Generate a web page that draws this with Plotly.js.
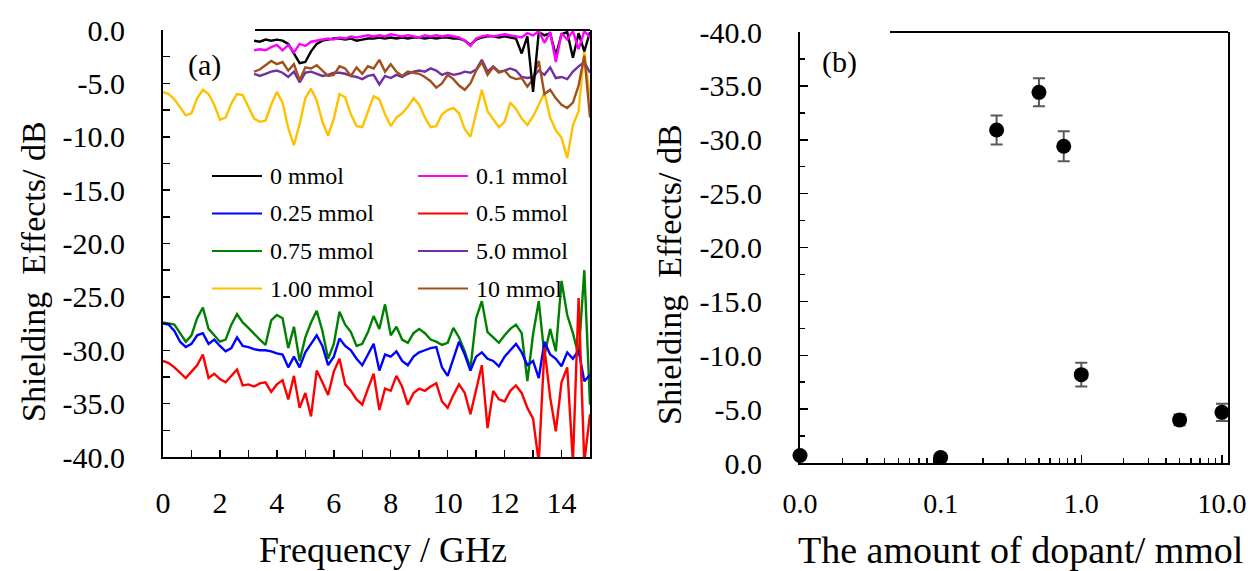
<!DOCTYPE html>
<html>
<head>
<meta charset="utf-8">
<script src="https://cdn.plot.ly/plotly-3.0.1.min.js"></script>
<style>html,body{margin:0;padding:0;background:#fff;}#chart{width:1248px;height:571px;}</style>
</head>
<body>
<div id="chart"></div>
<script>
// ---------- Panel (a): shielding effectiveness vs frequency ----------
const freq = [0,0.2,0.4,0.6,0.8,1,1.2,1.4,1.6,1.8,
  2,2.2,2.4,2.6,2.8,3,3.2,3.4,3.6,3.8,
  4,4.2,4.4,4.6,4.8,5,5.2,5.4,5.6,5.8,
  6,6.2,6.4,6.6,6.8,7,7.2,7.4,7.6,7.8,
  8,8.2,8.4,8.6,8.8,9,9.2,9.4,9.6,9.8,
  10,10.2,10.4,10.6,10.8,11,11.2,11.4,11.6,11.8,
  12,12.2,12.4,12.6,12.8,13,13.2,13.4,13.6,13.8,
  14,14.2,14.4,14.6,14.8,15];

const n16 = [null,null,null,null,null,null,null,null,null,null,null,null,null,null,null,null];

const se0mmol = n16.concat([-1.0,-1.1,-0.9,-1.0,
  -0.9,-1.0,-1.3,-2.2,-3.1,-3.0,-2.0,-1.3,-1.0,-0.9,
  -0.8,-0.8,-0.9,-0.8,-1.0,-0.9,-0.8,-0.8,-0.7,-0.8,
  -0.7,-0.8,-0.7,-0.8,-0.7,-0.7,-0.8,-0.7,-0.8,-0.7,
  -0.7,-0.8,-0.8,-1.0,-1.4,-0.9,-0.7,-0.6,-0.6,-0.7,
  -0.6,-0.7,-0.8,-2.2,-0.6,-5.8,-0.2,-0.5,-0.3,-2.4,
  -0.4,-0.2,-2.6,-0.3,-2.0,-0.2]);

const se01mmol = n16.concat([-1.9,-1.8,-1.9,-1.6,
  -1.4,-1.9,-1.4,-2.1,-1.3,-1.5,-1.1,-1.0,-0.9,-0.8,
  -0.9,-0.7,-0.8,-0.6,-0.7,-0.6,-0.5,-0.6,-0.5,-0.6,
  -0.4,-0.5,-0.6,-0.5,-0.6,-0.7,-0.5,-0.6,-0.5,-0.6,
  -0.5,-0.6,-0.7,-1.0,-1.5,-0.8,-0.6,-0.5,-0.6,-0.5,
  -0.4,-0.5,-0.6,-0.7,-0.3,-0.5,-0.1,-1.2,-0.2,-3.0,
  -0.3,-0.9,-0.1,-1.8,-0.1,-0.7]);

const se025mmol = [-27.5,-27.6,-28.2,-29.2,-29.7,-29.4,-28.6,-28.4,-29.4,-29.0,
  -29.6,-30.1,-29.8,-28.8,-29.6,-29.7,-29.9,-30.0,-30.0,-30.1,
  -30.3,-30.4,-31.6,-30.6,-31.6,-30.2,-29.4,-28.6,-29.6,-31.4,
  -30.6,-28.9,-29.6,-30.0,-30.8,-31.4,-30.4,-29.4,-31.9,-30.4,
  -30.6,-30.1,-31.0,-31.4,-30.6,-30.2,-30.0,-29.8,-29.7,-31.6,
  -32.4,-30.8,-29.2,-30.4,-31.9,-30.6,-30.2,-30.8,-31.0,-31.5,
  -30.6,-30.0,-29.4,-30.2,-31.4,-31.0,-32.6,-29.2,-30.4,-30.8,
  -31.5,-30.2,-30.8,-30.0,-32.9,-32.3];

const se05mmol = [-31.0,-31.2,-31.6,-32.1,-32.6,-32.0,-31.4,-30.4,-32.6,-32.2,
  -32.7,-33.0,-32.4,-31.8,-33.3,-33.2,-33.4,-33.1,-33.0,-33.9,
  -33.2,-32.8,-34.6,-32.4,-35.4,-34.0,-36.2,-31.9,-33.0,-34.2,
  -32.0,-30.8,-33.2,-33.8,-34.6,-35.1,-33.6,-32.2,-35.6,-33.6,
  -33.8,-32.4,-33.4,-35.1,-34.0,-33.6,-33.8,-33.4,-33.1,-34.8,
  -35.4,-34.2,-33.2,-34.0,-36.0,-33.8,-31.4,-37.3,-33.8,-34.6,
  -34.8,-33.8,-33.3,-34.0,-35.4,-36.4,-40.5,-29.8,-34.4,-37.6,
  -33.0,-31.6,-40.5,-25.1,-40.5,-36.0];

const se075mmol = [-27.4,-27.5,-27.6,-28.4,-29.2,-28.6,-27.0,-26.0,-28.0,-28.6,
  -29.2,-29.0,-27.6,-26.6,-27.4,-27.9,-28.5,-29.0,-29.5,-27.2,
  -26.7,-27.0,-29.8,-27.8,-31.0,-28.8,-27.4,-26.3,-28.2,-30.8,
  -29.4,-26.4,-27.6,-28.3,-29.6,-29.4,-28.3,-26.8,-28.0,-25.7,
  -28.6,-27.8,-29.0,-29.3,-28.4,-28.0,-28.4,-29.0,-29.2,-29.5,
  -29.3,-27.9,-28.8,-30.1,-31.7,-27.0,-25.4,-28.3,-28.8,-29.3,
  -28.6,-28.0,-27.6,-28.4,-32.9,-28.5,-25.4,-30.5,-28.0,-30.1,
  -23.5,-26.7,-28.4,-30.5,-22.5,-35.1];

const se5mmol = n16.concat([-4.1,-4.3,-4.1,-3.9,
  -3.8,-4.0,-4.4,-3.9,-4.9,-4.0,-3.9,-4.1,-4.3,-4.2,
  -4.0,-4.0,-4.1,-4.3,-4.4,-4.6,-4.3,-4.2,-5.1,-4.3,
  -4.5,-4.2,-4.4,-4.1,-3.9,-3.8,-3.9,-3.6,-3.8,-4.2,
  -4.0,-4.2,-4.1,-3.9,-4.0,-3.7,-2.8,-3.9,-3.4,-3.9,
  -3.8,-3.6,-3.8,-4.4,-4.5,-4.4,-3.8,-4.2,-3.5,-4.5,
  -4.4,-4.6,-3.9,-3.4,-3.0,-4.0]);

const se1mmol = [-5.8,-6.0,-6.5,-7.2,-8.0,-7.8,-6.4,-5.6,-6.0,-7.0,
  -8.4,-8.2,-6.9,-6.0,-6.1,-7.2,-8.3,-8.6,-8.5,-7.0,
  -5.8,-6.8,-9.2,-10.8,-8.8,-6.4,-5.5,-6.6,-8.6,-9.9,
  -8.3,-6.0,-6.3,-7.9,-9.0,-9.1,-7.6,-6.2,-6.5,-7.9,
  -9.0,-8.2,-7.8,-7.2,-6.4,-7.0,-8.2,-9.1,-9.0,-7.9,
  -7.5,-7.3,-7.8,-9.3,-10.0,-7.8,-5.6,-7.6,-8.4,-9.1,
  -8.6,-6.8,-7.4,-8.3,-8.9,-8.1,-7.0,-5.9,-8.2,-9.4,
  -10.1,-12.0,-8.9,-7.6,-2.0,-6.5];

const se10mmol = n16.concat([-3.9,-3.7,-3.3,-2.9,
  -3.2,-3.0,-3.8,-3.2,-4.7,-3.5,-3.6,-3.3,-3.8,-4.3,
  -4.2,-3.4,-3.6,-4.3,-3.5,-4.1,-3.4,-3.6,-2.8,-3.9,
  -3.2,-3.9,-4.3,-3.9,-4.0,-4.1,-4.4,-4.8,-5.4,-5.0,
  -4.2,-4.6,-5.2,-5.6,-5.0,-3.8,-3.0,-4.2,-3.5,-4.0,
  -3.8,-4.4,-4.6,-4.5,-5.3,-4.6,-2.9,-6.0,-5.6,-6.4,
  -7.0,-7.3,-6.8,-5.2,-2.4,-8.2]);

// ---------- Panel (b): shielding effectiveness vs dopant amount ----------
const dopant = [0.01, 0.1, 0.25, 0.5, 0.75, 1.0, 5.0, 10.0];
const seDopant = [-0.7, -0.5, -30.9, -34.4, -29.4, -8.2, -4.0, -4.7];
const seError = [0.3, 0.3, 1.35, 1.3, 1.4, 1.1, 0.5, 0.8];

const yTickVals = [0,-5,-10,-15,-20,-25,-30,-35,-40];
const yTickText = ['0.0','-5.0','-10.0','-15.0','-20.0','-25.0','-30.0','-35.0','-40.0'];
const xTickVals2 = [0.01, 0.1, 1, 10];
const xTickText2 = ['0.0','0.1','1.0','10.0'];

const legendNames = ['0 mmol','0.1 mmol','0.25 mmol','0.5 mmol','0.75 mmol','5.0 mmol','1.00 mmol','10 mmol'];

// ---------- build ----------
const W = 1248, H = 571;
const FONT = "'Liberation Serif', 'Times New Roman', serif";
const series = {
  '0 mmol':    {y: se0mmol,   color: '#000000'},
  '0.1 mmol':  {y: se01mmol,  color: '#FF00FF'},
  '0.25 mmol': {y: se025mmol, color: '#0000FF'},
  '0.5 mmol':  {y: se05mmol,  color: '#FF0000'},
  '0.75 mmol': {y: se075mmol, color: '#008000'},
  '5.0 mmol':  {y: se5mmol,   color: '#7030A0'},
  '1.00 mmol': {y: se1mmol,   color: '#FFC000'},
  '10 mmol':   {y: se10mmol,  color: '#A0501E'}
};
const drawOrder = ['0.75 mmol','0.25 mmol','0.5 mmol','1.00 mmol','5.0 mmol','10 mmol','0 mmol','0.1 mmol'];

const traces = drawOrder.map(name => ({
  type: 'scatter', mode: 'lines', name: name,
  x: freq, y: series[name].y,
  line: {color: series[name].color, width: 2.4},
  connectgaps: false, showlegend: false,
  xaxis: 'x', yaxis: 'y'
}));

traces.push({
  type: 'scatter', mode: 'markers', name: 'SE',
  x: dopant, y: seDopant,
  marker: {color: '#000000', size: 15},
  error_y: {type: 'data', array: seError, visible: true, color: '#595959', thickness: 2, width: 6},
  cliponaxis: false, showlegend: false,
  xaxis: 'x2', yaxis: 'y2'
});

const shapes = [
  {type:'line', xref:'x domain', yref:'y domain', x0:(255-163)/427, x1:1, y0:1, y1:1, line:{color:'#000', width:2}},
  {type:'line', xref:'x2 domain', yref:'y2 domain', x0:(890-800)/428, x1:1, y0:1, y1:1, line:{color:'#000', width:2}}
];
const annotations = [];
legendNames.forEach((name, i) => {
  const col = i % 2, row = Math.floor(i / 2);
  const lx = 212 + col * 206, ly = 176 + row * 37.5;
  shapes.push({type:'line', xref:'paper', yref:'paper', x0: lx / W, x1: (lx + 50) / W, y0: 1 - ly / H, y1: 1 - ly / H,
    line:{color: series[name].color, width: 2}});
  annotations.push({xref:'paper', yref:'paper', x: (lx + 56) / W, y: 1 - ly / H, xanchor:'left', yanchor:'middle',
    text: name, showarrow:false, font:{size: 24, color:'#000', family: FONT}});
});
annotations.push(
  {xref:'paper', yref:'paper', x: 204/W, y: 1 - 65/H, text:'(a)', showarrow:false, xanchor:'center', yanchor:'middle', font:{size:30, family:FONT, color:'#000'}},
  {xref:'paper', yref:'paper', x: 839/W, y: 1 - 62/H, text:'(b)', showarrow:false, xanchor:'center', yanchor:'middle', font:{size:30, family:FONT, color:'#000'}},
  {xref:'paper', yref:'paper', x: 33/W, y: 1 - 272/H, text:'Shielding  Effects/ dB', textangle:-90, showarrow:false, xanchor:'center', yanchor:'middle', font:{size:34, family:FONT, color:'#000'}},
  {xref:'paper', yref:'paper', x: 670/W, y: 1 - 275/H, text:'Shielding  Effects/ dB', textangle:-90, showarrow:false, xanchor:'center', yanchor:'middle', font:{size:34, family:FONT, color:'#000'}},
  {xref:'paper', yref:'paper', x: 383/W, y: 1 - 550/H, text:'Frequency / GHz', showarrow:false, xanchor:'center', yanchor:'middle', font:{size:36, family:FONT, color:'#000'}},
  {xref:'paper', yref:'paper', x: 1020/W, y: 1 - 550/H, text:'The amount of dopant/ mmol', showarrow:false, xanchor:'center', yanchor:'middle', font:{size:38, family:FONT, color:'#000'}}
);

const axisCommon = {showline:true, linecolor:'#000', linewidth:2, showgrid:false, zeroline:false,
  ticks:'inside', tickcolor:'#000', tickwidth:1.5, ticklabeloverflow:'allow',
  tickfont:{size:30, family:FONT, color:'#000'}};

const layout = {
  width: W, height: H,
  margin: {l:0, r:0, t:0, b:0},
  paper_bgcolor: '#fff', plot_bgcolor: '#fff',
  font: {family: FONT, color: '#000'},
  showlegend: false,
  xaxis: Object.assign({}, axisCommon, {
    domain:[163/W, 590/W], range:[0,15], anchor:'y',
    tickmode:'linear', tick0:0, dtick:2, ticklen:7, ticklabelstandoff:18,
    minor:{ticks:'inside', tickmode:'linear', tick0:0, dtick:1, ticklen:7, tickwidth:1.5, tickcolor:'#000', showgrid:false}
  }),
  yaxis: Object.assign({}, axisCommon, {
    domain:[(H-457)/H, (H-30)/H], range:[-40,0], anchor:'x', mirror:true,
    tickmode:'array', tickvals:yTickVals, ticktext:yTickText, ticklen:7, ticklabelstandoff:30,
    minor:{ticks:'inside', tickmode:'linear', tick0:0, dtick:2.5, ticklen:7, tickwidth:1.5, tickcolor:'#000', showgrid:false}
  }),
  xaxis2: Object.assign({}, axisCommon, {
    type:'log', domain:[800/W, 1228/W], range:[-2, 1.043], anchor:'y2',
    tickmode:'array', tickvals:xTickVals2, ticktext:xTickText2, ticklen:8, ticklabelstandoff:14,
    tickfont:{size:28, family:FONT, color:'#000'},
    minor:{ticks:'inside', dtick:'D1', ticklen:5, tickwidth:1.5, tickcolor:'#000', showgrid:false}
  }),
  yaxis2: Object.assign({}, axisCommon, {
    domain:[(H-463)/H, (H-32)/H], range:[0,-40], anchor:'x2', mirror:true,
    tickmode:'array', tickvals:yTickVals, ticktext:yTickText, ticklen:8, ticklabelstandoff:30,
    minor:{ticks:'inside', tickmode:'linear', tick0:0, dtick:2.5, ticklen:5, tickwidth:1.5, tickcolor:'#000', showgrid:false}
  }),
  shapes: shapes,
  annotations: annotations
};

Plotly.newPlot('chart', traces, layout, {displayModeBar:false, staticPlot:true});
</script>
</body>
</html>
